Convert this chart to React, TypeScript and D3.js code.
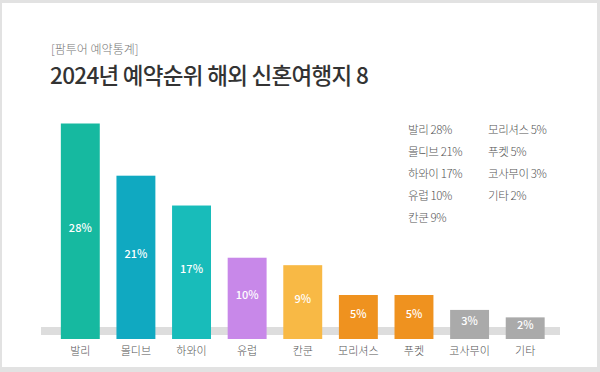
import React from "react";
import * as d3 from "d3";

const categories = ["발리", "몰디브", "하와이", "유럽", "칸쿤", "모리셔스", "푸켓", "코사무이", "기타"];
const values = [28, 21, 17, 10, 9, 5, 5, 3, 2];
const barColors = ["#16b9a0", "#10a9c1", "#18bcba", "#c888e9", "#f8b945", "#ef921f", "#ef921f", "#aaaaaa", "#aaaaaa"];

const legendCol1 = ["발리 28%", "몰디브 21%", "하와이 17%", "유럽 10%", "칸쿤 9%"];
const legendCol2 = ["모리셔스 5%", "푸켓 5%", "코사무이 3%", "기타 2%"];

const subtitle = "[팜투어 예약통계]";
const title = "2024년 예약순위 해외 신혼여행지 8";

const W = 600;
const H = 372;
const FONT = "'Noto Sans CJK KR', 'Noto Sans', sans-serif";

const App = () => {
  const baseY = 339;

  // band scale across the plotting area
  const x = d3.scaleBand<string>()
    .domain(categories)
    .range([52.5, 553])
    .paddingInner(0.3)
    .paddingOuter(0.15);

  // bars rise from a little below the grey baseline band
  const y = d3.scaleLinear().domain([-0.9, 28]).range([baseY, 123.5]);

  return (
    <svg width={W} height={H} style={{ position: "absolute", left: 0, top: 0, fontFamily: FONT }}>
      <rect x={0} y={0} width={W} height={H} fill="#e2e2e2" />
      <rect x={2} y={3} width={W - 5} height={H - 8} fill="#ffffff" />

      <text x={51} y={54} fontSize={12} fill="#777" fontWeight={300}>{subtitle}</text>
      <text x={50} y={84} fontSize={22.5} fill="#333" fontWeight={500} letterSpacing={-0.7}>{title}</text>

      {/* baseline band */}
      <rect x={41} y={327} width={519} height={8} fill="#dddddd" />

      {categories.map((c, i) => {
        const top = y(values[i]);
        const bx = x(c) ?? 0;
        return (
          <g key={c}>
            <rect x={bx} y={top} width={x.bandwidth()} height={baseY - top} fill={barColors[i]} />
            <text
              x={bx + x.bandwidth() / 2}
              y={(top + baseY) / 2 + 1}
              textAnchor="middle"
              fontSize={11}
              fontWeight={500}
              fill="#ffffff"
            >
              {values[i]}%
            </text>
            <text
              x={bx + x.bandwidth() / 2}
              y={355}
              textAnchor="middle"
              fontSize={11}
              fill="#555"
              fontWeight={300}
            >
              {c}
            </text>
          </g>
        );
      })}

      {legendCol1.map((t, i) => (
        <text key={t} x={408} y={134 + i * 22} fontSize={11.5} fill="#555" fontWeight={300} letterSpacing={-0.4}>{t}</text>
      ))}
      {legendCol2.map((t, i) => (
        <text key={t} x={488} y={134 + i * 22} fontSize={11.5} fill="#555" fontWeight={300} letterSpacing={-0.4}>{t}</text>
      ))}
    </svg>
  );
};

export default App;
